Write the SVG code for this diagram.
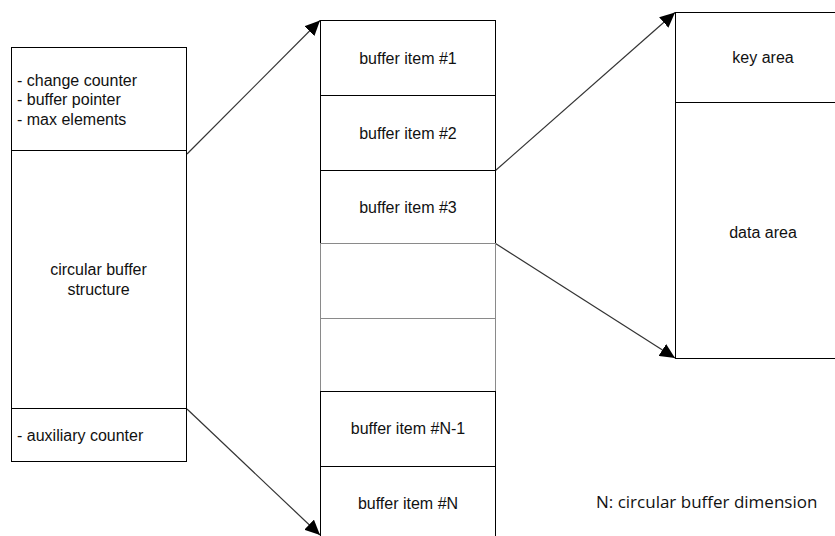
<svg xmlns="http://www.w3.org/2000/svg" width="835" height="536" viewBox="0 0 835 536">
<style>
.box{fill:#fff;stroke:#000;stroke-width:1}
.grey{fill:#fff;stroke:#8a8a8a;stroke-width:1}
.t{font-family:"Liberation Sans",Arial,sans-serif;font-size:16px;fill:#111}
.c{text-anchor:middle}
.note{font-family:"Open Sans","Liberation Sans",sans-serif;font-size:17px;fill:#111}
.edge{fill:none;stroke:#333;stroke-width:1.2;marker-end:url(#arr)}
</style>
<defs>
<marker id="arr" markerUnits="userSpaceOnUse" markerWidth="16" markerHeight="14" refX="15" refY="7" orient="auto">
<path d="M0,0 L15,7 L0,14 Z" fill="#000"/>
</marker>
</defs>
<rect width="835" height="536" fill="#fff"/>
<g id="connectors">
<line class="edge" x1="187" y1="154" x2="320" y2="20.5"/>
<line class="edge" x1="187" y1="409" x2="320" y2="535"/>
<line class="edge" x1="495.5" y1="170.5" x2="675" y2="12.5"/>
<line class="edge" x1="495.5" y1="243.5" x2="675" y2="358"/>
</g>
<g id="struct">
<rect class="box" x="11.5" y="47.5" width="175" height="103"/>
<text class="t" x="17" y="86">- change counter</text>
<text class="t" x="17" y="105">- buffer pointer</text>
<text class="t" x="17" y="125">- max elements</text>
</g>
<g id="circular-buffer-structure">
<rect class="box" x="11.5" y="150.5" width="175" height="258"/>
<text class="t c" x="98.5" y="275">circular buffer</text>
<text class="t c" x="98.5" y="295">structure</text>
</g>
<g id="aux">
<rect class="box" x="11.5" y="408.5" width="175" height="53"/>
<text class="t" x="17" y="441">- auxiliary counter</text>
</g>
<g id="item1">
<rect class="box" x="320.5" y="20.5" width="175" height="75"/>
<text class="t c" x="408" y="64">buffer item #1</text>
</g>
<g id="item2">
<rect class="box" x="320.5" y="95.5" width="175" height="75"/>
<text class="t c" x="408" y="139">buffer item #2</text>
</g>
<g id="item3">
<rect class="box" x="320.5" y="170.5" width="175" height="73"/>
<text class="t c" x="408" y="213">buffer item #3</text>
</g>
<g id="empty1">
<rect class="grey" x="320.5" y="243.5" width="175" height="75"/>
</g>
<g id="empty2">
<rect class="grey" x="320.5" y="318.5" width="175" height="73"/>
</g>
<g id="itemN1">
<rect class="box" x="320.5" y="391.5" width="175" height="75"/>
<text class="t c" x="408" y="434">buffer item #N-1</text>
</g>
<g id="itemN">
<rect class="box" x="320.5" y="466.5" width="175" height="75"/>
<text class="t c" x="408" y="509">buffer item #N</text>
</g>
<g id="key-area">
<rect class="box" x="675.5" y="12.5" width="175" height="90"/>
<text class="t c" x="763" y="63">key area</text>
</g>
<g id="data-area">
<rect class="box" x="675.5" y="102.5" width="175" height="256"/>
<text class="t c" x="763" y="238">data area</text>
</g>
<text class="note" x="596" y="508">N: circular buffer dimension</text>
</svg>
